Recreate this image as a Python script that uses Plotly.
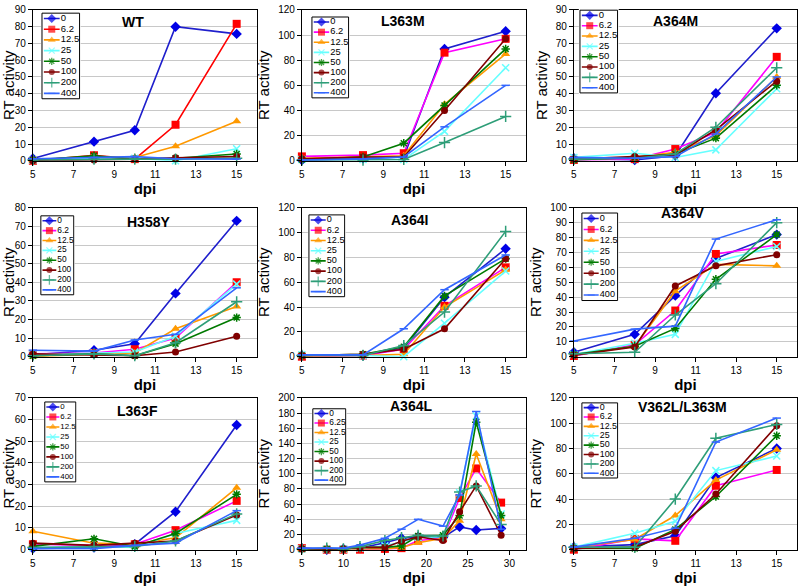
import plotly.graph_objects as go

# ---------------- data ----------------
DPI = [5, 8, 10, 12, 15]
DPI_A364L = [5, 8, 10, 12, 15, 17, 19, 22, 24, 26, 29]
CONC = ["0", "6.2", "12.5", "25", "50", "100", "200", "400"]
CONC_A364L = ["0", "6.25", "12.5", "25", "50", "100", "200", "400"]

WT = [
    [1.4, 11.4, 18.2, 80, 75.7],
    [0, 3.3, 1, 21.5, 81.7],
    [0.5, 2, 2, 8.7, 23.6],
    [0.5, 1.5, 1.5, 0, 7.2],
    [0.5, 3, 1, 1.5, 4],
    [0, 0.5, 1, 1.8, 2.5],
    [0.5, 1, 1, 1, 1.5],
    [1.2, 2, 2.5, 1.2, 1],
]
L363M = [
    [0.5, 2, 3, 89, 103],
    [3.5, 4.5, 6, 86, 97],
    [2, 3.5, 4, 45, 85],
    [1, 1, 1, 23.4, 74],
    [1, 3, 14, 44, 89],
    [1.5, 3, 3, 40, 97],
    [0.5, 0.5, 1, 14.5, 35.3],
    [0.5, 1.5, 3, 27, 60],
]
A364M = [
    [1.5, 0.5, 3, 40.3, 79],
    [0.5, 1, 7, 17, 62],
    [1, 2, 5, 15, 50],
    [2, 4.5, 2, 6.5, 43],
    [0.5, 2, 4, 13.5, 45],
    [1, 2.5, 3.5, 18.5, 47.5],
    [1, 1.5, 4, 20, 55.5],
    [2, 1.5, 2.5, 16, 50],
]
H358Y = [
    [1, 3.5, 7, 34, 73],
    [1.5, 2, 4, 10, 40],
    [0, 1.5, 2, 15, 27],
    [1, 2, 2.5, 11, 39],
    [0.5, 1.5, 0.5, 7, 21],
    [1.5, 1, 0.5, 2.5, 11],
    [0.5, 1.5, 0.5, 7.5, 29.5],
    [3.5, 3, 9, 12, 37],
]
A364I = [
    [1, 1, 7, 48, 87],
    [0, 1, 6, 41, 72],
    [0.5, 1, 2, 40, 70],
    [1.5, 1, 0, 27, 69],
    [1, 2, 8, 49, 79],
    [1, 2, 6, 22.5, 79],
    [1, 1, 9, 36, 101],
    [1.5, 1.5, 22.5, 54, 82],
]
A364V = [
    [3, 15, 41, 66, 82],
    [0.5, 8, 31, 69, 75],
    [1, 7, 44, 62, 61],
    [1.5, 9, 15, 64, 74],
    [1.5, 7, 19, 52, 82],
    [1, 6.5, 47.5, 61, 68.5],
    [2, 3, 28, 49, 90],
    [10.5, 18.5, 20.5, 79, 92],
]
L363F = [
    [0.5, 1, 2.5, 17.5, 57.5],
    [2.5, 2, 2.5, 9, 22.5],
    [8.5, 3, 2.5, 5.5, 28.5],
    [1, 1.5, 1, 7.5, 13.5],
    [1.5, 5, 1.5, 7.5, 25.5],
    [3, 2, 3, 4, 16],
    [1, 1.5, 1.5, 4, 16.5],
    [0.5, 0.5, 2, 3, 18],
]
A364L = [
    [2, 0, 1, 2, 9, 15, 17, 16, 30, 26, 28],
    [2, 0, 0, 0, 1, 2, 12, 15, 68, 107, 62],
    [1, 0, 0, 1, 1, 3, 9, 15, 38, 126, 40],
    [1, 1, 1, 2, 5, 10, 16, 17, 75, 176, 47],
    [1, 1, 1, 3, 3, 5, 18, 19, 45, 168, 45],
    [1, 0, 1, 3, 3, 11, 17, 12, 50, 84, 19],
    [1, 2, 1, 4, 12, 16, 19, 18, 76, 84, 33],
    [2, 2, 2, 6, 15, 27, 40, 31, 72, 182, 27],
]
V362L_L363M = [
    [2, 4, 11, 57, 80],
    [0, 8.5, 7, 50.5, 63],
    [2, 8, 27, 55, 79],
    [2, 13, 22.5, 62.5, 74],
    [1, 1, 16, 42, 90],
    [1, 2, 14.5, 44, 98],
    [2, 2, 40, 88, 99],
    [2, 9, 17, 85, 104],
]

# ---------------- panel setup (layout) ----------------
PANELS = [
    dict(title="WT", data=WT, x=DPI, conc=CONC, ymax=90, ydt=10, xmax=16, xdt=2, red_line=True,
         tpos=(130, 16), box=(38, 6, 78, 96)),
    dict(title="L363M", data=L363M, x=DPI, conc=CONC, ymax=120, ydt=20, xmax=16, xdt=2,
         tpos=(402, 15), box=(309, 10, 348, 95)),
    dict(title="A364M", data=A364M, x=DPI, conc=CONC, ymax=90, ydt=10, xmax=16, xdt=2,
         tpos=(675, 15), box=(578, 3, 618, 90)),
    dict(title="H358Y", data=H358Y, x=DPI, conc=CONC, ymax=80, ydt=10, xmax=16, xdt=2,
         tpos=(146, 220), box=(37, 213, 72, 296)),
    dict(title="A364I", data=A364I, x=DPI, conc=CONC, ymax=120, ydt=20, xmax=16, xdt=2,
         tpos=(408, 218), box=(306, 212, 344, 298)),
    dict(title="A364V", data=A364V, x=DPI, conc=CONC, ymax=100, ydt=10, xmax=16, xdt=2,
         tpos=(682, 211), box=(580, 210, 618, 302)),
    dict(title="L363F", data=L363F, x=DPI, conc=CONC, ymax=70, ydt=10, xmax=16, xdt=2,
         tpos=(135, 413), box=(41, 403, 74, 487)),
    dict(title="A364L", data=A364L, x=DPI_A364L, conc=CONC_A364L, ymax=200, ydt=20, xmax=32, xdt=5,
         tpos=(410, 408), box=(310, 410, 345, 490)),
    dict(title="V362L/L363M", data=V362L_L363M, x=DPI, conc=CONC, ymax=120, ydt=20, xmax=16, xdt=2,
         tpos=(682, 409), box=(580, 404, 618, 483)),
]

STYLES = [
    dict(line="#1F1FCC", mcolor="#0000E6", symbol="diamond", size=8, open=False),
    dict(line="#FF00FF", mcolor="#FF0000", symbol="square", size=8, open=False),
    dict(line="#FF9900", mcolor="#FF9900", symbol="triangle-up", size=8, open=False),
    dict(line="#66FFFF", mcolor="#66FFFF", symbol="x-thin-open", size=7, open=True),
    dict(line="#007A00", mcolor="#007A00", symbol="asterisk-open", size=7, open=True),
    dict(line="#800000", mcolor="#800000", symbol="circle", size=7, open=False),
    dict(line="#2E9E78", mcolor="#2E9E78", symbol="cross-thin-open", size=8, open=True),
    dict(line="#3366FF", mcolor="#3366FF", symbol="line-ew-open", size=6, open=True),
]

W, H = 800, 588
COLS = [(30, 255), (300, 525), (573, 797)]
ROWS = [(4, 158), (206, 358), (400, 555)]
FONT = "Liberation Sans, Arial, sans-serif"


def fx(p):
    return p / W


def fy(p):
    return 1 - p / H


def marker_for(st, size=None):
    m = dict(symbol=st["symbol"], size=size or st["size"], color=st["mcolor"])
    if st["open"]:
        m["line"] = dict(color=st["mcolor"], width=1.5)
    else:
        m["line"] = dict(width=0)
    return m


fig = go.Figure()
layout = dict(
    width=W, height=H, margin=dict(l=0, r=0, t=0, b=0, pad=0),
    paper_bgcolor="white", plot_bgcolor="white", showlegend=False,
    font=dict(family=FONT, color="black"),
)
annotations = []

for i, p in enumerate(PANELS):
    r, c = divmod(i, 3)
    n = i + 1
    xa, ya = f"xaxis{n}", f"yaxis{n}"
    xr, yr = f"x{n}", f"y{n}"
    x0, x1 = COLS[c]
    y0, y1 = ROWS[r]
    layout[xa] = dict(
        domain=[fx(x0), fx(x1)], anchor=yr, range=[5, p["xmax"]], tick0=5, dtick=p["xdt"],
        showgrid=False, showline=True, linecolor="black", linewidth=1, mirror=True,
        ticks="outside", ticklen=4, tickcolor="black", tickfont=dict(size=10),
        title=dict(text="<b>dpi</b>", font=dict(size=15), standoff=2), zeroline=False,
    )
    layout[ya] = dict(
        domain=[fy(y1), fy(y0)], anchor=xr, range=[0, p["ymax"]], dtick=p["ydt"],
        showgrid=True, gridcolor="#C8C8C8", gridwidth=1,
        showline=True, linecolor="black", linewidth=1, mirror=True,
        ticks="outside", ticklen=4, tickcolor="black", tickfont=dict(size=10),
        title=dict(text="RT activity", font=dict(size=15), standoff=4), zeroline=False,
    )
    for k, series in enumerate(p["data"]):
        st = STYLES[k]
        lc = "#FF0000" if (k == 1 and p.get("red_line")) else st["line"]
        fig.add_trace(go.Scatter(
            x=p["x"], y=series, mode="lines+markers", name=p["conc"][k],
            line=dict(color=lc, width=1.6), marker=marker_for(st),
            xaxis=xr, yaxis=yr, cliponaxis=False,
        ))
    tx, ty = p["tpos"]
    annotations.append(dict(
        text=f"<b>{p['title']}</b>", x=fx(tx), y=fy(ty), xref="paper", yref="paper",
        showarrow=False, font=dict(size=14), xanchor="center", yanchor="middle",
    ))

# legend boxes as small subplots drawn on top of the panels
for i, p in enumerate(PANELS):
    n = 10 + i
    xa, ya = f"xaxis{n}", f"yaxis{n}"
    xr, yr = f"x{n}", f"y{n}"
    bl, bt, br, bb = p["box"]
    layout[xa] = dict(domain=[fx(bl), fx(br)], anchor=yr, range=[-0.03, 1.03],
                      showgrid=False, zeroline=False, showline=False, showticklabels=False,
                      ticks="", fixedrange=True)
    layout[ya] = dict(domain=[fy(bb), fy(bt)], anchor=xr, range=[-0.015, 1.015],
                      showgrid=False, zeroline=False, showline=False, showticklabels=False,
                      ticks="", fixedrange=True)
    fig.add_trace(go.Scatter(
        x=[0, 1, 1, 0], y=[0, 0, 1, 1], mode="none", fill="toself",
        fillcolor="white", xaxis=xr, yaxis=yr, hoverinfo="skip",
    ))
    fig.add_trace(go.Scatter(
        x=[0, 1, 1, 0, 0], y=[0, 0, 1, 1, 0], mode="lines",
        line=dict(color="black", width=1), xaxis=xr, yaxis=yr, hoverinfo="skip",
    ))
    rowh = (bb - bt) / 8
    fsize = min(9.5, rowh * 0.9, (br - bl) * 0.24)
    for k, lab in enumerate(p["conc"]):
        st = STYLES[k]
        lc = "#FF0000" if (k == 1 and p.get("red_line")) else st["line"]
        yk = 1 - (k + 0.5) / 8
        fig.add_trace(go.Scatter(
            x=[0.05, 0.26, 0.47], y=[yk, yk, yk], mode="lines+markers",
            line=dict(color=lc, width=1.6),
            marker=dict(symbol=st["symbol"], size=[0, st["size"] - 1, 0], color=st["mcolor"],
                        line=(dict(color=st["mcolor"], width=1.3) if st["open"] else dict(width=0))),
            xaxis=xr, yaxis=yr, hoverinfo="skip", cliponaxis=False,
        ))
        fig.add_trace(go.Scatter(
            x=[0.5], y=[yk], mode="text", text=[lab], textposition="middle right",
            textfont=dict(size=fsize, family=FONT, color="black"),
            xaxis=xr, yaxis=yr, hoverinfo="skip", cliponaxis=False,
        ))

layout["annotations"] = annotations
fig.update_layout(**layout)
fig.write_html(
    "out.html",
    config={"displayModeBar": False},
    post_script="document.body.style.margin='0';document.body.style.padding='0';",
)
